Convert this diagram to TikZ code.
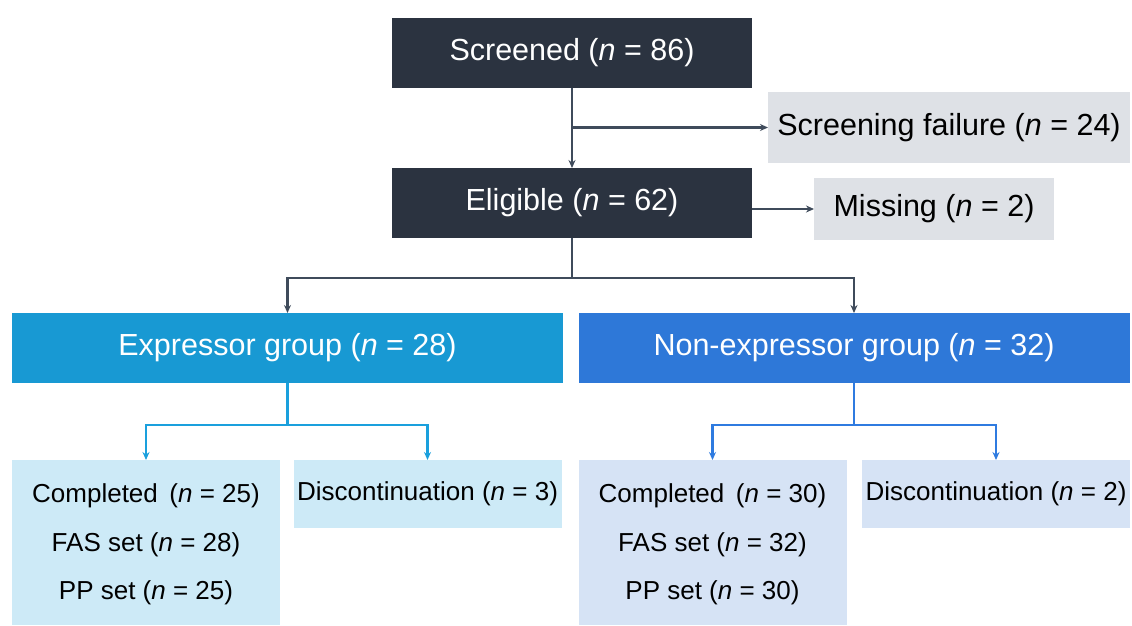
\documentclass[tikz,border=0pt]{standalone}
\usepackage{fontspec}
\setmainfont{Liberation Sans}
\usetikzlibrary{arrows.meta}
\definecolor{navy}{HTML}{2B3340}
\definecolor{greybox}{HTML}{DEE1E6}
\definecolor{lineg}{HTML}{3F4B5B}
\definecolor{expc}{HTML}{1899D3}
\definecolor{nexc}{HTML}{2E78D8}
\definecolor{expl}{HTML}{CDEAF7}
\definecolor{nexl}{HTML}{D6E3F5}
\definecolor{expline}{HTML}{1AA0DD}
\definecolor{nexline}{HTML}{2F7BE0}
\tikzset{
  box/.style={rectangle, inner sep=0pt, outer sep=0pt, anchor=center},
  bigtxt/.style={font=\fontsize{30.5}{34}\selectfont},
  smalltxt/.style={font=\fontsize{26}{30}\selectfont},
  darkbox/.style={box, bigtxt, fill=navy, text=white, minimum width=360pt, minimum height=70pt},
  greyb/.style={box, bigtxt, fill=greybox, text=black},
  grpbox/.style={box, bigtxt, text=white, minimum width=551pt, minimum height=70pt},
  leaf/.style={box, smalltxt, minimum width=268pt},
  conn/.style={line width=2.2pt},
  arr/.style={conn, -{Stealth[length=8pt,width=7pt]}}
}
\newcommand{\nn}{\textit{n}}
\begin{document}
\begin{tikzpicture}[x=1pt,y=-1pt]
\useasboundingbox (0,0) rectangle (1132,625);
\fill[white] (0,0) rectangle (1132,625);

\node[darkbox] (scr) at (572,53) {Screened (\nn{} = 86)};
\node[greyb, minimum width=362pt, minimum height=71pt] (fail) at (949,127.5) {Screening failure (\nn{} = 24)};
\node[darkbox] (elig) at (572,203) {Eligible (\nn{} = 62)};
\node[greyb, minimum width=240pt, minimum height=62pt] (miss) at (934,209) {Missing (\nn{} = 2)};

\node[grpbox, fill=expc] (expr) at (287.5,348) {Expressor group (\nn{} = 28)};
\node[grpbox, fill=nexc] (nexp) at (854,348) {Non-expressor group (\nn{} = 32)};

\node[leaf, fill=expl, minimum height=165pt] (comp1) at (146,542.5) {};
\node[smalltxt] (c1a) at (146,496) {Completed \,(\nn{} = 25)};
\node[smalltxt] (c1b) at (146,545) {FAS set (\nn{} = 28)};
\node[smalltxt] (c1c) at (146,593) {PP set (\nn{} = 25)};
\node[leaf, fill=expl, minimum height=68pt] (disc1) at (427.5,494) {Discontinuation (\nn{} = 3)};

\node[leaf, fill=nexl, minimum height=165pt] (comp2) at (712.5,542.5) {};
\node[smalltxt] (c2a) at (712.5,496) {Completed \,(\nn{} = 30)};
\node[smalltxt] (c2b) at (712.5,545) {FAS set (\nn{} = 32)};
\node[smalltxt] (c2c) at (712.5,593) {PP set (\nn{} = 30)};
\node[leaf, fill=nexl, minimum height=68pt] (disc2) at (996,494) {Discontinuation (\nn{} = 2)};

% top connectors
\draw[arr, lineg] (scr.south) -- (elig.north);
\draw[arr, lineg] (scr.south |- fail.west) -- (fail.west);
\draw[arr, lineg] (elig.east |- miss.west) -- (miss.west);
\coordinate (j1) at (572,278);
\draw[conn, lineg] (elig.south) -- (j1);
\draw[arr, lineg] (j1) -| (expr.north);
\draw[arr, lineg] (j1) -| (nexp.north);

% expressor connectors
\coordinate (j2) at (287.5,425);
\draw[conn, expline] (expr.south) -- (j2);
\draw[arr, expline] (j2) -| (comp1.north);
\draw[arr, expline] (j2) -| (disc1.north);

% non-expressor connectors
\coordinate (j3) at (854,425);
\draw[conn, nexline] (nexp.south) -- (j3);
\draw[arr, nexline] (j3) -| (comp2.north);
\draw[arr, nexline] (j3) -| (disc2.north);
\end{tikzpicture}
\end{document}
